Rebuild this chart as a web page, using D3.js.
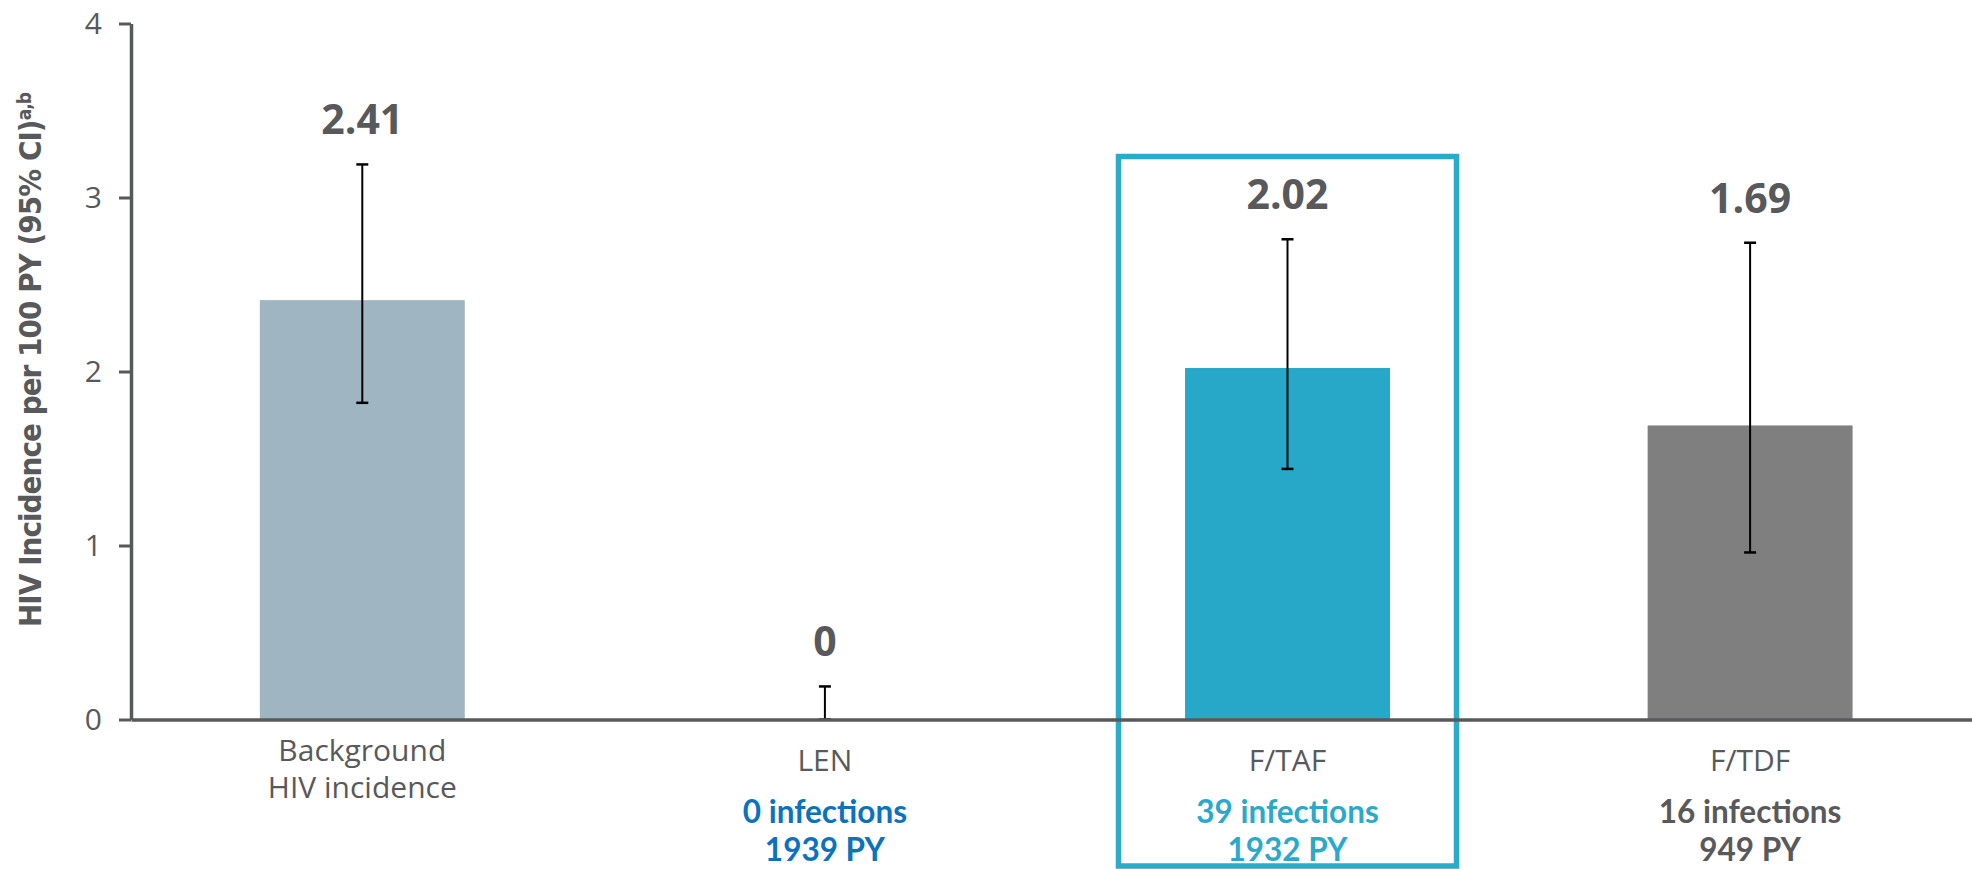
<!DOCTYPE html>
<html>
<head>
<meta charset="utf-8">
<script src="https://cdn.jsdelivr.net/npm/d3@7/dist/d3.min.js"></script>
<style>
  html, body { margin: 0; padding: 0; background: #ffffff; }
  svg { display: block; }
</style>
</head>
<body>
<svg id="chart" width="1972" height="869"></svg>
<script>
// HIV incidence per 100 person-years with 95% CI, by group
const categories = ["Background\nHIV incidence", "LEN", "F/TAF", "F/TDF"];
const incidence = [2.41, 0, 2.02, 1.69];
const ciLow = [1.82, 0, 1.44, 0.96];
const ciHigh = [3.19, 0.19, 2.76, 2.74];
const infections = [null, 0, 39, 16];
const personYears = [null, 1939, 1932, 949];
const yTicks = [0, 1, 2, 3, 4];
const highlighted = "F/TAF";

// styling
const barColors = ["#9fb5c2", "#9fb5c2", "#28a8c8", "#7f7f7f"];
const infoColors = ["#58595b", "#0b72bf", "#2aa9cb", "#58595b"];
const ink = "#58595b";

const W = 1972, H = 869;
const axisX = 131;
const svg = d3.select("#chart");

const y = d3.scaleLinear().domain([0, 4]).range([719.5, 23.5]);
const x = d3.scaleBand()
  .domain(categories)
  .range([axisX, axisX + 4 * 462.6])
  .paddingInner(0.557)
  .paddingOuter(0.2785);
const bw = x.bandwidth();
const cx = c => x(c) + bw / 2;

const rows = categories.map((c, i) => ({
  c, v: incidence[i], lo: ciLow[i], hi: ciHigh[i],
  inf: infections[i], py: personYears[i], i
}));

// highlight frame around the F/TAF group
svg.append("rect")
  .attr("x", cx(highlighted) - 169)
  .attr("y", 156.5)
  .attr("width", 338)
  .attr("height", 866 - 156.5)
  .attr("fill", "none")
  .attr("stroke", "#2aabca")
  .attr("stroke-width", 5.5);

// bars
svg.append("g").selectAll("rect")
  .data(rows.filter(d => d.v > 0))
  .join("rect")
  .attr("x", d => x(d.c))
  .attr("width", bw)
  .attr("y", d => y(d.v))
  .attr("height", d => y(0) - y(d.v))
  .attr("fill", d => barColors[d.i]);

// error bars
const eb = svg.append("g")
  .attr("stroke", "#000")
  .attr("stroke-width", 2)
  .selectAll("g")
  .data(rows)
  .join("g");
eb.append("line")
  .attr("x1", d => cx(d.c)).attr("x2", d => cx(d.c))
  .attr("y1", d => y(d.lo)).attr("y2", d => y(d.hi));
eb.append("line")
  .attr("x1", d => cx(d.c) - 6).attr("x2", d => cx(d.c) + 6)
  .attr("y1", d => y(d.hi)).attr("y2", d => y(d.hi))
  .attr("stroke-width", 2.5);
eb.append("line")
  .attr("x1", d => cx(d.c) - 6).attr("x2", d => cx(d.c) + 6)
  .attr("y1", d => y(d.lo)).attr("y2", d => y(d.lo))
  .attr("stroke-width", 2.5);

// value labels above the CI
const fmt = v => v === 0 ? "0" : d3.format(".2f")(v);
svg.append("g").selectAll("text")
  .data(rows)
  .join("text")
  .attr("x", d => cx(d.c))
  .attr("y", d => y(d.hi) - 30)
  .attr("text-anchor", "middle")
  .attr("font-family", "'Open Sans', sans-serif")
  .attr("font-weight", 700)
  .attr("font-size", 41)
  .attr("fill", ink)
  .text(d => fmt(d.v));

// x axis
const xAxis = svg.append("g")
  .attr("transform", `translate(0,${y(0)})`)
  .call(d3.axisBottom(x).tickSize(0).tickFormat(""));
xAxis.select(".domain").attr("stroke", ink).attr("stroke-width", 3.5);
xAxis.selectAll(".tick text").remove();

// category labels
const catG = svg.append("g")
  .attr("font-family", "'Open Sans', sans-serif")
  .attr("font-size", 30)
  .attr("fill", ink)
  .attr("text-anchor", "middle");
rows.forEach(d => {
  const lines = d.c.split("\n");
  const t = catG.append("text")
    .attr("x", cx(d.c))
    .attr("y", 771 - (lines.length - 1) * 10);
  lines.forEach((ln, k) => {
    t.append("tspan")
      .attr("x", cx(d.c))
      .attr("dy", k === 0 ? 0 : 37)
      .text(ln);
  });
});

// infections / person-years, two lines per group
const infoG = svg.append("g")
  .attr("font-family", "Lato, 'Open Sans', sans-serif")
  .attr("font-weight", 700)
  .attr("font-size", 31.5)
  .attr("text-anchor", "middle");
rows.filter(d => d.inf !== null).forEach(d => {
  const t = infoG.append("text")
    .attr("x", cx(d.c)).attr("y", 823)
    .attr("fill", infoColors[d.i]);
  t.append("tspan").attr("x", cx(d.c)).text(`${d.inf} infections`);
  t.append("tspan").attr("x", cx(d.c)).attr("dy", 38).text(`${d.py} PY`);
});

// y axis
const yAxis = svg.append("g")
  .attr("transform", `translate(${axisX},0)`)
  .call(d3.axisLeft(y).tickValues(yTicks).tickFormat(d3.format("d"))
    .tickSize(12).tickPadding(17).tickSizeOuter(0));
yAxis.select(".domain").attr("stroke", ink).attr("stroke-width", 3.5);
yAxis.selectAll(".tick line").attr("stroke", ink).attr("stroke-width", 3);
yAxis.selectAll(".tick text")
  .attr("font-family", "'Open Sans', sans-serif")
  .attr("font-size", 30)
  .attr("fill", ink);

// y axis title
const title = svg.append("text")
  .attr("transform", "translate(41,359.5) rotate(-90)")
  .attr("text-anchor", "middle")
  .attr("font-family", "'Liberation Sans Narrow', 'DejaVu Sans Condensed', sans-serif")
  .attr("font-weight", 700)
  .attr("font-size", 31)
  .attr("fill", ink)
  .attr("textLength", 535)
  .attr("lengthAdjust", "spacing");
title.append("tspan").text("HIV Incidence per 100 PY (95% CI)");
title.append("tspan").attr("font-size", 19).attr("dy", -10).text("a,b");
</script>
</body>
</html>
